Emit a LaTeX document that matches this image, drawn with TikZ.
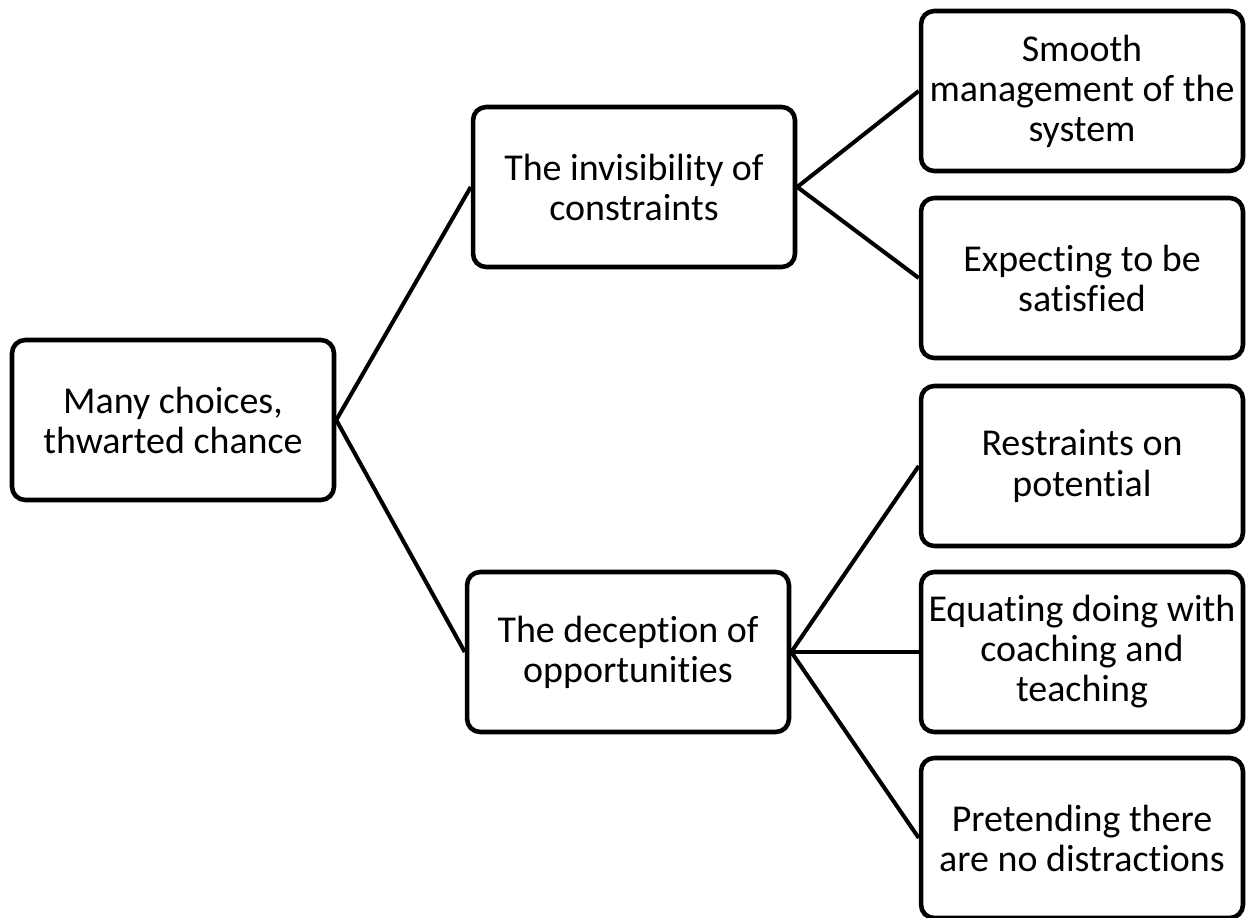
\documentclass[tikz,border=0pt]{standalone}
\usepackage{fontspec}
\setmainfont{Carlito}[Ligatures=NoCommon]
\tikzset{tree_box/.style={draw=black, line width=2.6pt, rounded corners=7.5pt, fill=white, minimum width=6.44cm, minimum height=3.2cm, align=center, inner sep=2pt, font=\fontsize{21.6}{22.8}\selectfont}}
\tikzset{tree_edge/.style={color=black, line width=2.3pt}}

\begin{document}
\begin{tikzpicture}[x=0.02cm, y=-0.02cm]
    \useasboundingbox (0,0) rectangle (1248,918);
    \node[tree_box] (root) at (173,420) {Many choices,\\thwarted chance};
    \node[tree_box] (inv) at (634,187) {The invisibility of\\constraints};
    \node[tree_box] (dec) at (628,652) {The deception of\\opportunities};
    \node[tree_box] (smooth) at (1082,91) {Smooth\\management of the\\system};
    \node[tree_box] (expect) at (1082,278) {Expecting to be\\satisfied};
    \node[tree_box] (restr) at (1082,466) {Restraints on\\potential};
    \node[tree_box] (equat) at (1082,652) {Equating doing with\\coaching and\\teaching};
    \node[tree_box] (pret) at (1082,838) {Pretending there\\are no distractions};
    \draw[tree_edge] (root.east)--(inv.west);
    \draw[tree_edge] (root.east)--(dec.west);
    \foreach \r in {smooth,expect}{\draw[tree_edge] (inv.east)--(\r.west);}
    \foreach \r in {restr,equat,pret}{\draw[tree_edge] (dec.east)--(\r.west);}
  \end{tikzpicture}
\end{document}
